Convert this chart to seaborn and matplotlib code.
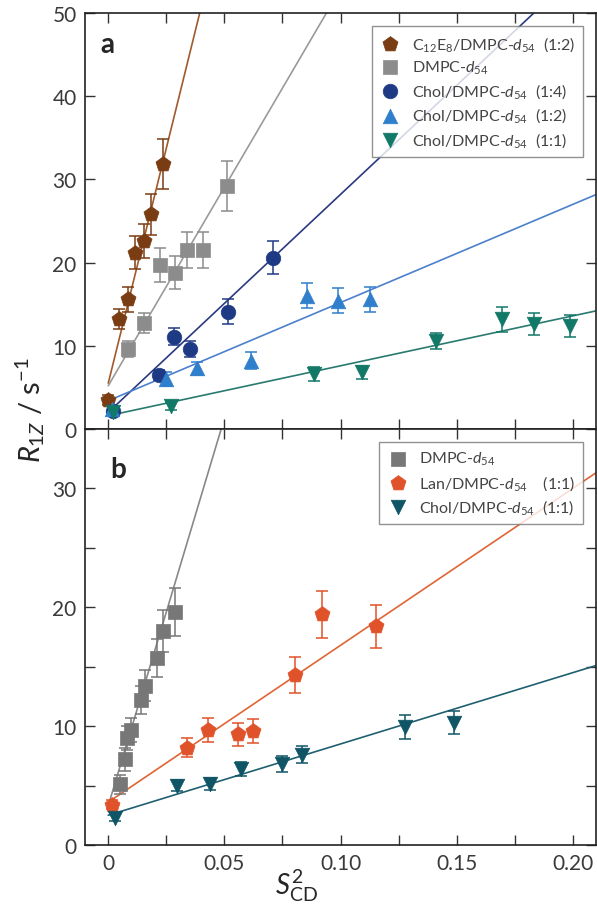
# Relaxation rate R1Z vs squared order parameter, two panels
import numpy as np
import seaborn as sns
import matplotlib.pyplot as plt
from matplotlib.ticker import MultipleLocator, FixedLocator, FixedFormatter

sns.set_theme(style="ticks")
plt.rcParams["font.family"] = ["Lato", "DejaVu Sans"]
plt.rcParams["mathtext.fontset"] = "custom"
plt.rcParams["mathtext.rm"] = "Lato"
plt.rcParams["mathtext.it"] = "Lato:italic"

# ---------------- panel a data ----------------
c12_x = [0.0, 0.0048, 0.0087, 0.0115, 0.0154, 0.0184, 0.0237]
c12_y = [3.5, 13.2, 15.6, 21.2, 22.6, 25.8, 31.8]
c12_e = [0.6, 1.2, 1.5, 2.0, 2.0, 2.5, 3.0]

dmpc_a_x = [0.0087, 0.0154, 0.0222, 0.0286, 0.034, 0.041, 0.0511]
dmpc_a_y = [9.6, 12.7, 19.7, 18.8, 21.5, 21.5, 29.2]
dmpc_a_e = [1.0, 1.2, 2.0, 2.0, 2.2, 2.2, 3.0]

chol14_x = [0.002, 0.0219, 0.0282, 0.0353, 0.0514, 0.0711]
chol14_y = [2.2, 6.5, 11.1, 9.6, 14.1, 20.6]
chol14_e = [0.4, 0.6, 1.0, 1.0, 1.5, 2.0]

chol12_x = [0.0016, 0.025, 0.0382, 0.0614, 0.0856, 0.0991, 0.1127]
chol12_y = [2.4, 6.0, 7.3, 8.2, 16.0, 15.4, 15.6]
chol12_e = [0.4, 0.8, 0.8, 1.0, 1.5, 1.5, 1.5]

chol11a_x = [0.002, 0.0269, 0.0885, 0.1094, 0.1412, 0.1697, 0.1835, 0.1986]
chol11a_y = [2.0, 2.8, 6.6, 6.8, 10.6, 13.2, 12.6, 12.4]
chol11a_e = [0.3, 0.5, 0.8, 0.8, 1.0, 1.5, 1.3, 1.3]

# fitted lines (intercept, slope)
fit_a = {"c12": (5.5, 1130), "dmpc": (5.2, 477), "chol14": (2.0, 262),
         "chol12": (3.4, 118), "chol11": (1.6, 60)}

# ---------------- panel b data ----------------
dmpc_b_x = [0.0051, 0.0073, 0.008, 0.0098, 0.0141, 0.0158, 0.0212, 0.0236, 0.0286]
dmpc_b_y = [5.1, 7.2, 9.0, 9.7, 12.2, 13.4, 15.7, 18.0, 19.6]
dmpc_b_e = [0.8, 1.0, 1.0, 1.0, 1.2, 1.3, 1.6, 1.8, 2.0]

lan_x = [0.0016, 0.034, 0.0429, 0.056, 0.0624, 0.0803, 0.092, 0.1152]
lan_y = [3.4, 8.2, 9.7, 9.3, 9.6, 14.3, 19.4, 18.4]
lan_e = [0.4, 0.8, 1.0, 1.0, 1.0, 1.5, 2.0, 1.8]

chol11b_x = [0.0027, 0.0296, 0.0436, 0.0571, 0.0747, 0.0835, 0.1276, 0.149]
chol11b_y = [2.3, 5.0, 5.1, 6.4, 6.8, 7.6, 9.9, 10.3]
chol11b_e = [0.3, 0.5, 0.5, 0.6, 0.7, 0.7, 1.0, 1.0]

fit_b = {"dmpc": (3.3, 652), "lan": (3.6, 132), "chol11": (2.5, 60)}

x_ticks = [0, 0.05, 0.10, 0.15, 0.20]
x_tick_labels = ["0", "0.05", "0.10", "0.15", "0.20"]

D54 = "DMPC-$d_{54}$"

fig = plt.figure(figsize=(5.97, 9.12), dpi=100)
ax_a = fig.add_axes([0.1424, 0.5285, 0.8560, 0.4561])
ax_b = fig.add_axes([0.1424, 0.0724, 0.8560, 0.4561])

xs = np.linspace(0, 0.21, 200)


def series(ax, x, y, e, fit, color, lcolor, marker, size, label):
    b0, m = fit
    sns.lineplot(x=xs, y=b0 + m * xs, color=lcolor, lw=1.2, ax=ax, zorder=1)
    ax.errorbar(x, y, yerr=e, fmt="none", ecolor=color, elinewidth=1.1,
                capsize=4, capthick=1.1, zorder=2)
    sns.scatterplot(x=x, y=y, marker=marker, color=color, s=size,
                    edgecolor=color, linewidth=0.5, ax=ax, zorder=3,
                    label=label)


# ---------------- panel a ----------------
series(ax_a, c12_x, c12_y, c12_e, fit_a["c12"], "#7a3c12", "#a05a2c", "p", 130,
       "C$_{12}$E$_8$/" + D54 + "  (1:2)")
series(ax_a, dmpc_a_x, dmpc_a_y, dmpc_a_e, fit_a["dmpc"], "#8c8c8c", "#9a9a9a", "s", 90,
       D54)
series(ax_a, chol14_x, chol14_y, chol14_e, fit_a["chol14"], "#1f3a85", "#2a3a80", "o", 110,
       "Chol/" + D54 + "  (1:4)")
series(ax_a, chol12_x, chol12_y, chol12_e, fit_a["chol12"], "#2f7fcc", "#4a80cc", "^", 110,
       "Chol/" + D54 + "  (1:2)")
series(ax_a, chol11a_x, chol11a_y, chol11a_e, fit_a["chol11"], "#127868", "#2a7a70", "v", 110,
       "Chol/" + D54 + "  (1:1)")

ax_a.set_ylim(0, 50)
ax_a.yaxis.set_major_locator(MultipleLocator(10))

# ---------------- panel b ----------------
series(ax_b, dmpc_b_x, dmpc_b_y, dmpc_b_e, fit_b["dmpc"], "#777777", "#888888", "s", 90,
       D54)
series(ax_b, lan_x, lan_y, lan_e, fit_b["lan"], "#e0522a", "#e06535", "p", 130,
       "Lan/" + D54 + "    (1:1)")
series(ax_b, chol11b_x, chol11b_y, chol11b_e, fit_b["chol11"], "#0f5566", "#1f6070", "v", 110,
       "Chol/" + D54 + "  (1:1)")

ax_b.set_ylim(0, 35)
ax_b.yaxis.set_major_locator(MultipleLocator(10))
ax_b.yaxis.set_minor_locator(MultipleLocator(5))
ax_b.set_xlabel("$S^2_{\\mathrm{CD}}$", fontsize=20)
ax_b.xaxis.set_label_coords(0.414, -0.05)

for ax in (ax_a, ax_b):
    ax.set_xlim(-0.01, 0.21)
    ax.xaxis.set_major_locator(FixedLocator(x_ticks))
    ax.xaxis.set_major_formatter(FixedFormatter(x_tick_labels))
    ax.xaxis.set_minor_locator(FixedLocator([0.025, 0.075, 0.125, 0.175]))
    ax.tick_params(which="both", direction="in", top=True, right=True,
                   labelsize=15, pad=6, color="#333333", labelcolor="#3a3a3a")
    ax.tick_params(which="major", length=7, width=1)
    ax.tick_params(which="minor", length=7, width=1)
    for sp in ax.spines.values():
        sp.set_linewidth(1.2)
        sp.set_color("#222222")
    ax.set_ylabel("")
    leg = ax.legend(loc="upper right", fontsize=11.5, frameon=True, fancybox=False,
                    edgecolor="#777777", handletextpad=0.7, borderpad=0.5,
                    labelspacing=0.35, borderaxespad=0.8, handlelength=1.3)
    leg.get_frame().set_linewidth(1.0)
    for t in leg.get_texts():
        t.set_color("#444444")

ax_a.tick_params(labelbottom=False)
ax_a.text(0.03, 0.925, "a", transform=ax_a.transAxes, fontsize=20,
          fontweight="bold", ha="left", va="center")
ax_b.text(0.05, 0.905, "b", transform=ax_b.transAxes, fontsize=20,
          fontweight="bold", ha="left", va="center")

fig.text(0.05, 0.55, "$R_{1Z}$ / s$^{-1}$", rotation=90, fontsize=21,
         ha="center", va="center")

fig.savefig("out.png", dpi=100)
